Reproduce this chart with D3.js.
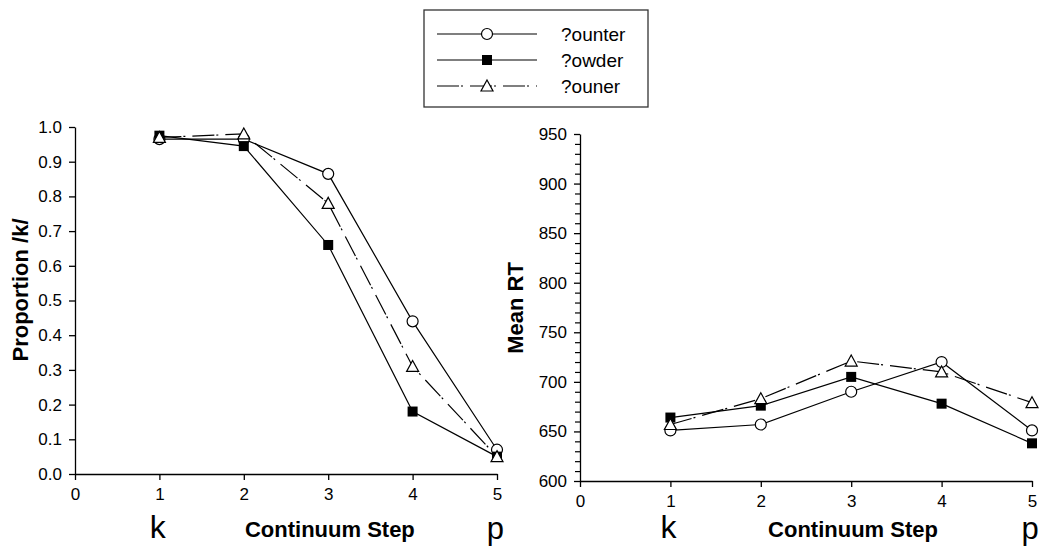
<!DOCTYPE html>
<html><head><meta charset="utf-8">
<script src="https://cdn.jsdelivr.net/npm/d3@7"></script>
<style>body{margin:0;background:#fff}svg{display:block}text{font-family:"Liberation Sans",Arial,sans-serif}</style>
</head><body><svg id="c" width="1055" height="551"></svg>
<script>
const steps = [1,2,3,4,5];
const seriesNames = ["?ounter","?owder","?ouner"];
const propCounter = [0.965,0.965,0.865,0.44,0.07];
const propPowder  = [0.975,0.945,0.66,0.18,0.05];
const propPouner  = [0.97,0.98,0.78,0.31,0.05];
const rtCounter = [651,657,690,720,651];
const rtPowder  = [664,676,705,678,638];
const rtPouner  = [657,683,721,710,679];
const propTicks = [0,0.1,0.2,0.3,0.4,0.5,0.6,0.7,0.8,0.9,1.0];
const rtTicks = [600,650,700,750,800,850,900,950];
const xTicks = [0,1,2,3,4,5];

const svg = d3.select("#c");
const styles = [
  {marker:"circle", dash:null},
  {marker:"square", dash:null},
  {marker:"triangle", dash:"22,2,2,7"}
];
function drawMarker(g, type, x, y){
  if(type==="circle") g.append("circle").attr("cx",x).attr("cy",y).attr("r",5.5).attr("fill","#fff").attr("stroke","#000").attr("stroke-width",1.2);
  else if(type==="square") g.append("rect").attr("x",x-5).attr("y",y-5).attr("width",10).attr("height",10).attr("fill","#000");
  else g.append("path").attr("d",`M${x},${y-6}L${x+6},${y+5}L${x-6},${y+5}Z`).attr("fill","#fff").attr("stroke","#000").attr("stroke-width",1.2);
}
function panel(opts){
  const x = d3.scaleLinear().domain([0,5]).range([opts.x0, opts.x1]);
  const y = d3.scaleLinear().domain(opts.ydom).range([opts.y0, opts.y1]);
  const g = svg.append("g");
  const xa = g.append("g").attr("transform",`translate(0,${opts.y0})`)
    .call(d3.axisBottom(x).tickValues(xTicks).tickFormat(d3.format("d")).tickSize(6).tickSizeOuter(0).tickPadding(8));
  const ya = g.append("g").attr("transform",`translate(${opts.x0},0)`)
    .call(d3.axisLeft(y).tickValues(opts.yticks).tickFormat(opts.fmt).tickSize(6).tickSizeOuter(0).tickPadding(7));
  if(opts.minor){
    g.append("g").attr("transform",`translate(${opts.x0},0)`)
      .call(d3.axisLeft(y).tickValues(opts.minor).tickFormat("").tickSize(5).tickSizeOuter(0))
      .call(a=>a.select(".domain").remove())
      .selectAll("line").attr("stroke","#000").attr("stroke-width",1.2);
  }
  [xa,ya].forEach(a=>{a.attr("font-size",17);a.selectAll("text").attr("font-size",17).attr("fill","#000");a.selectAll("line,path").attr("stroke","#000").attr("stroke-width",1.3);});
  opts.data.forEach((vals,i)=>{
    const line = d3.line().x((d,j)=>x(steps[j])).y(d=>y(d));
    g.append("path").attr("d",line(vals)).attr("fill","none").attr("stroke","#000").attr("stroke-width",1.2)
      .attr("stroke-dasharray",styles[i].dash);
  });
  opts.data.forEach((vals,i)=>vals.forEach((v,j)=>drawMarker(g,styles[i].marker,x(steps[j]),y(v))));
  g.append("text").attr("x",x(3.02)).attr("y",537).attr("text-anchor","middle").attr("font-size",22).attr("font-weight","bold").text("Continuum Step");
  g.append("text").attr("x",x(0.98)).attr("y",538).attr("text-anchor","middle").attr("font-size",32).text("k");
  g.append("text").attr("x",x(4.98)).attr("y",539).attr("text-anchor","middle").attr("font-size",31).text("p");
  g.append("text").attr("transform",`translate(${opts.labX},${opts.labY}) rotate(-90)`).attr("text-anchor","middle").attr("font-size",22).attr("font-weight","bold").text(opts.ylabel);
}
panel({x0:75,x1:497,y0:474,y1:127,ydom:[0,1],yticks:propTicks,fmt:d3.format(".1f"),data:[propCounter,propPowder,propPouner],ylabel:"Proportion /k/",labX:28,labY:290});
const minorRT = d3.range(600,951,10).filter(v=>v%50!==0);
panel({x0:580,x1:1032,y0:481,y1:134,ydom:[600,950],yticks:rtTicks,fmt:d3.format("d"),minor:minorRT,data:[rtCounter,rtPowder,rtPouner],ylabel:"Mean RT",labX:523,labY:308});

// legend
const lg = svg.append("g");
lg.append("rect").attr("x",424).attr("y",10).attr("width",224).attr("height",97).attr("fill","#fff").attr("stroke","#333").attr("stroke-width",1.3);
seriesNames.forEach((n,i)=>{
  const yy = 34 + i*26;
  lg.append("line").attr("x1",437).attr("x2",537).attr("y1",yy).attr("y2",yy).attr("stroke","#000").attr("stroke-width",1.2).attr("stroke-dasharray",styles[i].dash);
  drawMarker(lg,styles[i].marker,487,yy);
  lg.append("text").attr("x",561).attr("y",yy+7).attr("font-size",19).text(n);
});
</script></body></html>
